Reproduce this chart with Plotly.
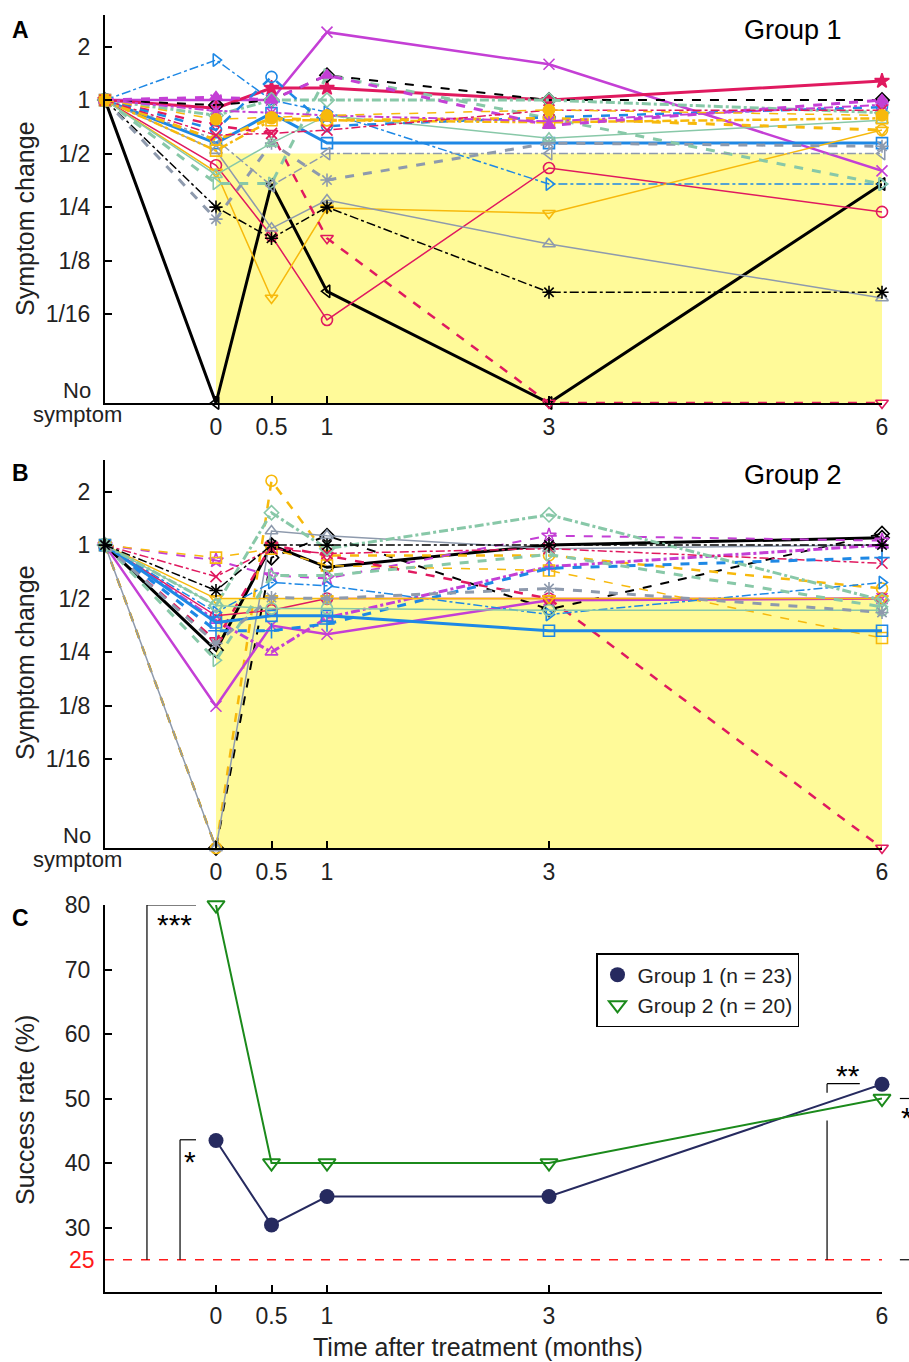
import math
import plotly.graph_objects as go

# ---------------- data ----------------
months = [-1, 0, 0.5, 1, 3, 6]          # -1 = baseline (before treatment)
month_ticks = [0, 0.5, 1, 3, 6]
month_labels = ["0", "0.5", "1", "3", "6"]

ratio_ticks = [2, 1, 0.5, 0.25, 0.125, 0.0625]
ratio_labels = ["2", "1", "1/2", "1/4", "1/8", "1/16"]

# symptom change ratio at 0, 0.5, 1, 3, 6 months (0 = no symptom); baseline = 1
group1_values = [
    [0, 0.337, 0.084, 0, 0.337],
    [1.0, 1.0, 2.41, 1.59, 0.40],
    [0.90, 1.17, 1.17, 1.0, 1.28],
    [0.573, 0.845, 0.573, 0.573, 0.573],
    [0.43, 0.172, 0.058, 0.415, 0.235],
    [0.394, 0.077, 0.247, 0.231, 0.678],
    [0.52, 0.19, 0.274, 0.155, 0.077],
    [0.25, 0.167, 0.25, 0.083, 0.083],
    [0.214, 0.573, 0.355, 0.573, 0.55],
    [0.72, 0.65, 0.167, 0, 0],
    [0.937, 1.0, 1.38, 1.0, 1.0],
    [1.68, 1.0, 0.856, 0.337, 0.337],
    [0.34, 0.34, 1.38, 0.79, 0.337],
    [0.82, 1.0, 1.0, 1.0, 0.85],
    [0.38, 0.573, 0.82, 0.61, 0.77],
    [0.60, 0.33, 0.5, 0.5, 0.5],
    [0.68, 1.35, 0.714, 0.80, 0.913],
    [0.596, 0.79, 0.77, 0.79, 0.678],
    [0.52, 0.77, 0.77, 0.75, 0.79],
    [1.04, 1.0, 1.38, 0.72, 1.0],
    [0.87, 0.85, 0.82, 0.76, 0.94],
    [0.635, 0.65, 0.678, 0.878, 0.878],
    [0.78, 0.80, 0.82, 0.88, 0.82],
]

group2_values = [
    [0.256, 1.0, 0.75, 1.0, 1.10],
    [0, 0.85, 1.13, 0.435, 1.16],
    [0, 2.30, 0.875, 0.875, 0.57],
    [0, 1.2, 1.13, 0.955, 1.0],
    [0.124, 0.353, 0.315, 0.49, 0.5],
    [0.377, 0.25, 0.39, 0.757, 1.0],
    [0.82, 0.674, 0.65, 1.13, 1.06],
    [0.85, 0.955, 0.767, 0.72, 0.30],
    [0.665, 0.955, 0.896, 0.955, 0.79],
    [0.29, 1.0, 0.875, 0.5, 0],
    [0.40, 0.43, 0.5, 0.5, 0.5],
    [0.367, 0.40, 0.40, 0.33, 0.33],
    [0.33, 0.33, 0.36, 0.74, 0.85],
    [0.418, 0.616, 0.59, 0.407, 0.616],
    [0.5, 0.5, 0.5, 0.5, 0.5],
    [0.225, 0.674, 0.674, 0.885, 0.45],
    [0.457, 1.52, 0.955, 1.48, 0.49],
    [0.457, 0.44, 0.44, 0.43, 0.43],
    [0.28, 0.507, 0.5, 0.57, 0.418],
    [0.555, 1.0, 1.0, 1.0, 1.0],
]

success_months = [0, 0.5, 1, 3, 6]
success_group1 = [43.5, 30.4, 34.8, 34.8, 52.2]
success_group2 = [80, 40, 40, 40, 50]
chance_level = 25

# ---------------- styles ----------------
BLK = "#000000"; MAG = "#c43fd5"; CRI = "#e0195f"; BLU = "#1e88e5"
ORA = "#f7b90c"; TEA = "#88c8a8"; GRY = "#8e9aad"
NAVY = "#262a5f"; GREEN = "#1b8a1b"

group1_styles = [
    (BLK, "solid", 3, "triangle-left-open"),
    (MAG, "solid", 2.5, "x-thin-open"),
    (CRI, "solid", 3, "star"),
    (BLU, "solid", 3, "square-open"),
    (CRI, "solid", 1.5, "circle-open"),
    (ORA, "solid", 1.5, "triangle-down-open"),
    (GRY, "solid", 1.5, "triangle-up-open"),
    (BLK, "dashdot", 1.5, "asterisk-open"),
    (GRY, "dash", 3, "asterisk-open"),
    (CRI, "dash", 2.5, "triangle-down-open"),
    (BLK, "dash", 2, "diamond-open"),
    (BLU, "dashdot", 1.5, "triangle-right-open"),
    (TEA, "dash", 3, "triangle-right-open"),
    (TEA, "dashdot", 3, "diamond-open"),
    (TEA, "solid", 1.5, "triangle-up-open"),
    (GRY, "dashdot", 1.5, "triangle-left-open"),
    (BLU, "dash", 2.5, "circle-open"),
    (ORA, "dash", 3, "circle-open"),
    (ORA, "dashdot", 2.5, "square-open"),
    (MAG, "dash", 3, "triangle-up"),
    (MAG, "dashdot", 2, "asterisk-open"),
    (CRI, "dashdot", 1.5, "x-thin-open"),
    (ORA, "dash", 1.5, "circle"),
]

group2_styles = [
    (BLK, "solid", 3, "diamond-open"),
    (BLK, "dash", 2, "diamond-open"),
    (ORA, "dash", 2.5, "circle-open"),
    (GRY, "solid", 1.5, "triangle-up-open"),
    (MAG, "solid", 2.5, "x-thin-open"),
    (MAG, "dashdot", 3, "triangle-up-open"),
    (MAG, "dash", 2, "star-open"),
    (ORA, "dash", 1.5, "square-open"),
    (CRI, "dashdot", 1.5, "x-thin-open"),
    (CRI, "dash", 2.5, "triangle-down-open"),
    (CRI, "solid", 1.5, "circle-open"),
    (BLU, "solid", 3, "square-open"),
    (BLU, "dash", 3, "cross-thin-open"),
    (BLU, "dashdot", 1.5, "triangle-right-open"),
    (ORA, "solid", 1.5, "triangle-down-open"),
    (TEA, "dash", 3, "triangle-right-open"),
    (TEA, "dashdot", 3, "diamond-open"),
    (TEA, "solid", 1.5, "circle-open"),
    (GRY, "dash", 3, "asterisk-open"),
    (BLK, "dashdot", 1.5, "asterisk-open"),
]

NO_SYM = -5.66
Y_TOP = 1.59


def to_plot(v):
    return math.log2(v) if v > 0 else NO_SYM


FONT = "Liberation Sans, Arial, sans-serif"
TXT = "#222222"
fig = go.Figure()

for axn, values, styles in (("", group1_values, group1_styles), ("2", group2_values, group2_styles)):
    for vals, (col, dash, w, sym) in zip(values, styles):
        ys = [to_plot(v) for v in [1] + vals]
        fig.add_trace(go.Scatter(
            x=months, y=ys, mode="lines+markers",
            line=dict(color=col, dash=dash, width=w),
            marker=dict(symbol=sym, size=11, color=col, line=dict(color=col, width=1.6)),
            cliponaxis=False, showlegend=False, hoverinfo="skip",
            xaxis="x" + axn, yaxis="y" + axn))

fig.add_trace(go.Scatter(
    x=success_months, y=success_group1, mode="lines+markers", showlegend=False,
    line=dict(color=NAVY, width=2),
    marker=dict(symbol="circle", size=15, color=NAVY),
    cliponaxis=False, xaxis="x3", yaxis="y3"))
fig.add_trace(go.Scatter(
    x=success_months, y=success_group2, mode="lines+markers", showlegend=False,
    line=dict(color=GREEN, width=2),
    marker=dict(symbol="triangle-down-open", size=15, color=GREEN, line=dict(width=2, color=GREEN)),
    cliponaxis=False, xaxis="x3", yaxis="y3"))
# legend-only entries (markers without line samples)
fig.add_trace(go.Scatter(x=[None], y=[None], mode="markers", name="Group 1 (n = 23)",
                         marker=dict(symbol="circle", size=15, color=NAVY), xaxis="x3", yaxis="y3"))
fig.add_trace(go.Scatter(x=[None], y=[None], mode="markers", name="Group 2 (n = 20)",
                         marker=dict(symbol="triangle-down-open", size=15, color=GREEN,
                                     line=dict(width=2, color=GREEN)), xaxis="x3", yaxis="y3"))

# ---------------- layout ----------------
T, B, H = 15, 70, 1362
PH = H - T - B


def dom(top_px, bot_px):
    return [(H - B - bot_px) / PH, (H - B - top_px) / PH]


TICKFONT = dict(size=23, color=TXT, family=FONT)

xcommon = dict(range=[-1, 6], showline=True, linecolor="black", linewidth=2,
               ticks="inside", ticklen=7, tickwidth=1.5, tickcolor="black",
               tickvals=month_ticks, ticktext=month_labels, tickfont=TICKFONT,
               showgrid=False, zeroline=False, ticklabelstandoff=2, automargin=False)
ycommon = dict(range=[NO_SYM, Y_TOP], showline=True, linecolor="black", linewidth=2,
               ticks="inside", ticklen=7, tickwidth=1.5, tickcolor="black",
               tickvals=[to_plot(v) for v in ratio_ticks], ticktext=ratio_labels,
               tickfont=TICKFONT, automargin=False,
               showgrid=False, zeroline=False, ticklabelstandoff=8)

fig.update_layout(
    width=909, height=1362,
    margin=dict(l=105, r=27, t=T, b=B, autoexpand=False),
    paper_bgcolor="white", plot_bgcolor="white",
    font=dict(family=FONT, color=TXT),
    xaxis=dict(domain=[0, 1], anchor="y", **xcommon),
    yaxis=dict(domain=dom(15, 403), anchor="x", **ycommon),
    xaxis2=dict(domain=[0, 1], anchor="y2", **xcommon),
    yaxis2=dict(domain=dom(460, 848), anchor="x2", **ycommon),
    xaxis3=dict(domain=[0, 1], anchor="y3", **xcommon),
    yaxis3=dict(domain=dom(905, 1292), anchor="x3", range=[20, 80], showline=True,
                linecolor="black", linewidth=2, ticks="inside", ticklen=7, tickwidth=1.5,
                tickcolor="black", tickvals=[30, 40, 50, 60, 70, 80], tickfont=TICKFONT,
                showgrid=False, zeroline=False, ticklabelstandoff=8, automargin=False),
    legend=dict(x=(596 - 105) / 777, y=(H - B - 953) / PH, xanchor="left", yanchor="top",
                bordercolor="black", borderwidth=1.5, bgcolor="white",
                font=dict(size=21, color=TXT, family=FONT), tracegroupgap=0,
                itemwidth=30),
)

shapes = []
for yr in ("y", "y2"):
    shapes.append(dict(type="rect", xref=yr.replace("y", "x"), yref=yr, x0=0, x1=6,
                       y0=NO_SYM, y1=-1, fillcolor="#fffa99", line=dict(width=0), layer="below"))
shapes.append(dict(type="line", xref="x3", yref="y3", x0=-1, x1=6, y0=chance_level, y1=chance_level,
                   line=dict(color="#ff1a1a", width=1.5, dash="dash")))
br = dict(color="black", width=1.2)
shapes += [
    dict(type="line", xref="x3", yref="y3", x0=-0.622, x1=-0.622, y0=25, y1=80, line=br),
    dict(type="line", xref="x3", yref="y3", x0=-0.622, x1=-0.18, y0=80, y1=80, line=br),
    dict(type="line", xref="x3", yref="y3", x0=-0.324, x1=-0.324, y0=25, y1=43.6, line=br),
    dict(type="line", xref="x3", yref="y3", x0=-0.324, x1=-0.18, y0=43.6, y1=43.6, line=br),
    dict(type="line", xref="x3", yref="y3", x0=5.505, x1=5.505, y0=25, y1=46.6, line=br),
    dict(type="line", xref="x3", yref="y3", x0=5.505, x1=5.505, y0=50.9, y1=52.3, line=br),
    dict(type="line", xref="x3", yref="y3", x0=5.505, x1=5.8, y0=52.3, y1=52.3, line=br),
    dict(type="line", xref="paper", yref="y3", x0=1.023, x1=1.04, y0=50, y1=50, line=br),
    dict(type="line", xref="paper", yref="y3", x0=1.023, x1=1.04, y0=25, y1=25, line=br),
]
fig.update_layout(shapes=shapes)

ann = []


def px2paper_x(px):
    return (px - 105) / 777


def px2paper_y(py):
    return (H - B - py) / PH


def txt(text, x, y, size, bold=False, color=TXT, xanchor="center", yanchor="middle",
        xref="paper", yref="paper", angle=0):
    ann.append(dict(text=("<b>%s</b>" % text) if bold else text, x=x, y=y, xref=xref, yref=yref,
                    showarrow=False, xanchor=xanchor, yanchor=yanchor, textangle=angle,
                    font=dict(size=size, color=color, family=FONT)))


def ptxt(text, px, py, size, **kw):
    txt(text, px2paper_x(px), px2paper_y(py), size, **kw)


ptxt("A", 20, 30, 23, bold=True, color="black")
ptxt("B", 20, 473, 23, bold=True, color="black")
ptxt("C", 20, 918, 23, bold=True, color="black")
ptxt("Group 1", 793, 30, 27, color="black")
ptxt("Group 2", 793, 475, 27, color="black")
ptxt("Symptom change", 25, 219, 25, angle=-90)
ptxt("Symptom change", 25, 663, 25, angle=-90)
ptxt("Success rate (%)", 25, 1110, 25, angle=-90)
ptxt("Time after treatment (months)", 478, 1347, 25)
for base in (403, 848):
    ptxt("No", 77, base - 13, 22)
    ptxt("symptom", 77, base + 11, 22)
txt("25", px2paper_x(97), chance_level, 23, color="#ff1a1a", xanchor="right", yref="y3")
txt("***", -0.37, 77.0, 30, color="black", xref="x3", yref="y3")
txt("*", -0.234, 40.3, 30, color="black", xref="x3", yref="y3")
txt("**", 5.69, 53.5, 30, color="black", xref="x3", yref="y3")
ptxt("*", 899, 1117, 30, color="black", xanchor="left")
fig.update_layout(annotations=ann)

fig.write_html("out.html")
